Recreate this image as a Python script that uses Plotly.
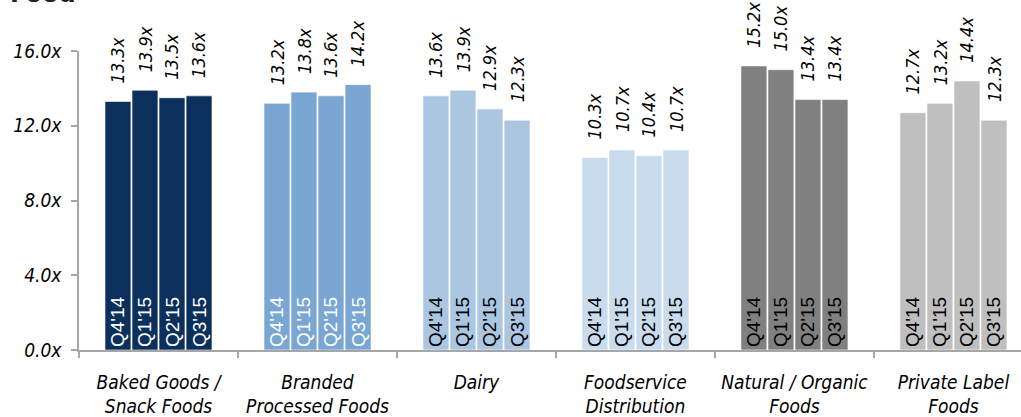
import plotly.graph_objects as go

categories = ["Baked Goods /<br>Snack Foods", "Branded<br>Processed Foods", "Dairy",
              "Foodservice<br>Distribution", "Natural / Organic<br>Foods", "Private Label<br>Foods"]
quarters = ["Q4'14", "Q1'15", "Q2'15", "Q3'15"]
q4_14 = [13.3, 13.2, 13.6, 10.3, 15.2, 12.7]
q1_15 = [13.9, 13.8, 13.9, 10.7, 15.0, 13.2]
q2_15 = [13.5, 13.6, 12.9, 10.4, 13.4, 14.4]
q3_15 = [13.6, 14.2, 12.3, 10.7, 13.4, 12.3]
series = [q4_14, q1_15, q2_15, q3_15]
bar_colors = ["#0B305C", "#79A6D2", "#ABC6E1", "#C9DCEE", "#808080", "#BFBFBF"]
inside_colors = ["white", "white", "black", "black", "black", "black"]
y_ticks = [0, 4, 8, 12, 16]

BARGAP = 0.32
ITALIC = "DejaVu Sans Condensed, DejaVu Sans"
xpos = list(range(len(categories)))

fig = go.Figure()
for j, (q, vals) in enumerate(zip(quarters, series)):
    fig.add_trace(go.Bar(
        x=xpos, y=vals, name=q,
        marker=dict(color=bar_colors, line=dict(color="rgba(255,255,255,0.6)", width=1)),
        text=[q] * len(vals), textposition="inside", insidetextanchor="start",
        textangle=-90, constraintext="none",
        insidetextfont=dict(family="Liberation Sans, Arial", size=19, color=inside_colors),
        hoverinfo="skip",
    ))

annotations = []
slot = (1 - BARGAP) / len(quarters)
for j, vals in enumerate(series):
    for i, v in enumerate(vals):
        annotations.append(dict(
            x=i + (j - (len(quarters) - 1) / 2) * slot, y=v, xref="x", yref="y",
            text=f"<i>{v:.1f}x</i>", showarrow=False, textangle=-90,
            xanchor="center", yanchor="bottom", yshift=16,
            font=dict(family=ITALIC, size=18, color="black"),
        ))
annotations.append(dict(
    x=-0.075, y=1.0 + 42 / 307, xref="paper", yref="paper",
    text="<b>Food</b>", showarrow=False, xanchor="left", yanchor="bottom",
    font=dict(family="DejaVu Sans", size=24, color="#222222"),
))

fig.update_layout(
    width=1021, height=417,
    margin=dict(l=79, r=0, t=51, b=59),
    barmode="group", bargap=BARGAP, bargroupgap=0.04,
    plot_bgcolor="white", paper_bgcolor="white",
    showlegend=False,
    annotations=annotations,
    font=dict(family=ITALIC, color="black"),
)
fig.update_xaxes(
    range=[-0.5, 5.425], tickmode="array", tickvals=xpos,
    ticktext=[f"<i>{c}</i>" for c in categories],
    ticks="", showline=True, linecolor="#A6A6A6", linewidth=1.5,
    showgrid=False, zeroline=False, ticklabelstandoff=14,
    tickfont=dict(family=ITALIC, size=19, color="black"),
    minor=dict(tickmode="array", tickvals=[k - 0.5 for k in range(len(categories) + 1)],
               ticks="outside", ticklen=6, tickcolor="#A6A6A6", tickwidth=1.5, showgrid=False),
)
fig.update_yaxes(
    range=[0, 16], tickmode="array", tickvals=y_ticks,
    ticktext=[f"<i>{t:.1f}x</i>" for t in y_ticks],
    ticks="outside", ticklen=6, tickcolor="#A6A6A6", tickwidth=1.5,
    showline=True, linecolor="#A6A6A6", linewidth=1.5,
    showgrid=False, zeroline=False, ticklabelstandoff=6,
    tickfont=dict(family=ITALIC, size=19, color="black"),
)

fig.write_html("out.html")
